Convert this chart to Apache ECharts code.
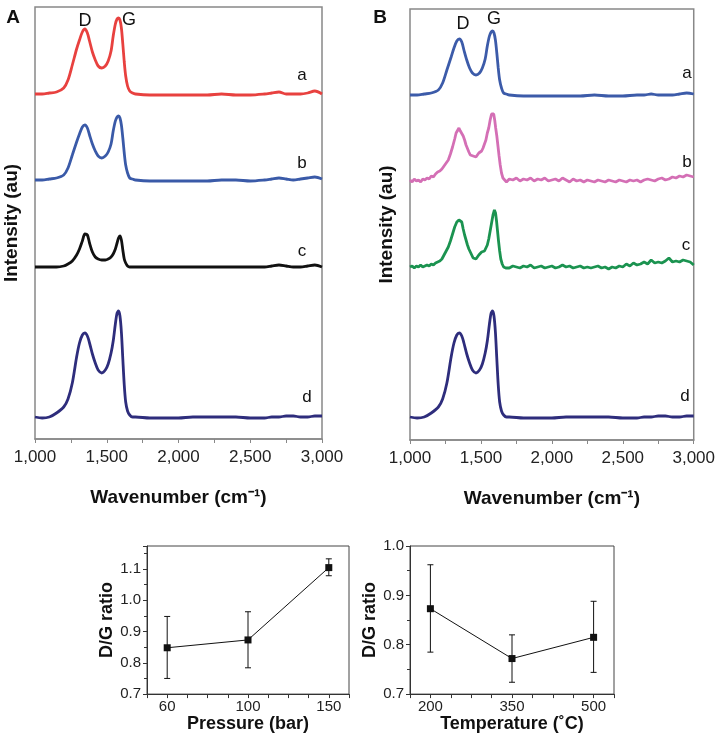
<!DOCTYPE html>
<html>
<head>
<meta charset="utf-8">
<script src="https://cdn.jsdelivr.net/npm/echarts@6/dist/echarts.min.js"></script>
<style>
  html, body { margin: 0; padding: 0; background: #fff; }
  #main { width: 718px; height: 734px; }
</style>
</head>
<body>
<div id="main"></div>
<script>
// wavenumber samples for the clean spectra (cm-1)
var wnClean = [1000, 1050, 1100, 1150, 1200, 1230, 1260, 1290, 1310, 1330, 1348, 1365, 1380, 1400, 1420, 1440, 1465,
	1490, 1510, 1530, 1545, 1560, 1572, 1582, 1592, 1602, 1612, 1622, 1632, 1645, 1660, 1680, 1700,
	1800, 1900, 2000, 2100, 2200, 2300, 2400, 2500, 2600, 2650, 2700, 2750, 2800, 2850, 2900, 2950, 3000];

// panel A (offset intensities, au)
var specA_a = [345, 345, 346, 347, 351, 359, 374, 390, 399, 407, 410, 406, 398, 387, 379, 373, 371,
	373, 378, 388, 403, 415, 420, 421, 419, 411, 395, 377, 363, 353, 348, 346, 345,
	344, 344, 344, 344, 344, 345, 344, 344, 345, 346, 347, 345, 345, 345, 346, 348, 345];
var specA_b = [259, 259, 260, 261, 264, 271, 284, 297, 305, 312, 314, 311, 304, 295, 288, 283, 281,
	283, 287, 295, 308, 318, 322, 323, 321, 314, 301, 286, 274, 266, 261, 260, 259,
	258, 258, 258, 258, 258, 259, 259, 258, 259, 260, 261, 260, 259, 260, 261, 262, 260];
var specA_c = [172, 172, 172, 172, 173, 175, 178, 184, 190, 198, 205, 204, 196, 187, 182, 180, 179,
	179, 180, 182, 185, 190, 196, 201, 203, 199, 189, 180, 176, 173, 172, 172, 172,
	172, 172, 172, 172, 172, 172, 172, 172, 172, 173, 174, 173, 172, 172, 173, 174, 172];
var specA_d = [22, 21, 22, 26, 32, 40, 56, 82, 96, 104, 106, 103, 96, 85, 76, 69, 66,
	69, 75, 86, 98, 115, 126, 128, 123, 107, 80, 54, 37, 28, 24, 22, 22,
	21, 21, 21, 22, 22, 22, 22, 21, 21, 22, 22, 23, 23, 22, 22, 23, 23];

// panel B clean spectra
var specB_a = [345, 345, 346, 347, 350, 357, 370, 383, 392, 399, 401, 398, 390, 380, 372, 367, 365,
	367, 372, 381, 394, 404, 408, 409, 407, 400, 387, 372, 360, 352, 347, 346, 345,
	344, 344, 344, 344, 344, 345, 344, 344, 345, 345, 346, 345, 345, 345, 346, 347, 346];
var specB_d = [23, 22, 23, 27, 33, 41, 57, 83, 97, 105, 107, 104, 97, 86, 77, 70, 67,
	70, 76, 87, 99, 116, 127, 129, 124, 108, 81, 55, 38, 29, 25, 23, 23,
	22, 22, 22, 23, 23, 23, 23, 22, 22, 23, 23, 24, 24, 23, 23, 24, 24];

// panel B noisy spectra
var wnTail = [1700, 1725, 1750, 1775, 1800, 1825, 1850, 1875, 1900, 1925, 1950, 1975, 2000, 2025, 2050, 2075,
	2100, 2125, 2150, 2175, 2200, 2225, 2250, 2275, 2300, 2325, 2350, 2375, 2400, 2425, 2450, 2475,
	2500, 2525, 2550, 2575, 2600, 2625, 2650, 2675, 2700, 2725, 2750, 2775, 2800, 2825, 2850, 2875,
	2900, 2925, 2950, 2975, 3000];
var wnB_b = [1000, 1015, 1030, 1045, 1060, 1075, 1090, 1105, 1120, 1135, 1150, 1165, 1180, 1195, 1210, 1225,
	1240, 1255, 1270, 1285, 1300, 1315, 1325, 1335, 1345, 1355, 1365, 1375, 1385, 1395, 1405, 1415,
	1425, 1435, 1445, 1455, 1465, 1475, 1485, 1495, 1505, 1515, 1525, 1535, 1545, 1555, 1565, 1575,
	1583, 1590, 1597, 1604, 1612, 1620, 1628, 1636, 1645, 1655, 1665, 1680].concat(wnTail);
var specB_b = [260, 258, 261, 259, 260, 258, 261, 260, 262, 261,
	264, 263, 266, 268, 269, 271, 274, 277, 280, 286,
	293, 301, 307, 308, 312, 309, 311, 304, 300, 295,
	293, 288, 285, 287, 284, 286, 283, 285, 287, 286,
	289, 292, 296, 300, 307, 312, 320, 326, 328, 326,
	320, 312, 304, 294, 284, 275, 267, 262, 260, 258,
	261, 260, 262, 259, 261, 260, 262, 259, 261, 260,
	262, 259, 260, 261, 259, 262, 260, 258, 261, 259,
	260, 258, 260, 259, 258, 260, 259, 258, 260, 259,
	258, 260, 259, 258, 260, 259, 260, 258, 260, 261,
	260, 259, 261, 262, 260, 261, 263, 262, 264, 263,
	265, 264, 263];
var wnB_c = [1000, 1015, 1030, 1045, 1060, 1075, 1090, 1105, 1120, 1135, 1150, 1165, 1180, 1195, 1210, 1225,
	1240, 1255, 1270, 1285, 1300, 1315, 1330, 1345, 1355, 1365, 1375, 1385, 1395, 1405, 1415, 1425,
	1435, 1445, 1455, 1465, 1475, 1485, 1495, 1505, 1515, 1525, 1535, 1545, 1555, 1565, 1575, 1585,
	1595, 1603, 1610, 1617, 1624, 1632, 1640, 1650, 1660, 1675].concat(wnTail);
var specB_c = [173, 174, 172, 174, 173, 175, 173, 174, 175, 174,
	176, 175, 177, 178, 179, 181, 185, 189, 193, 199,
	206, 213, 218, 220, 221, 218, 211, 205, 200, 195,
	191, 188, 185, 182, 180, 181, 183, 185, 186, 188,
	189, 189, 191, 195, 201, 209, 217, 225, 230, 227,
	219, 209, 199, 189, 181, 176, 173, 172,
	172, 174, 173, 172, 174, 173, 175, 172, 173, 174,
	172, 173, 174, 172, 173, 175, 173, 174, 172, 173,
	174, 172, 173, 172, 173, 174, 172, 173, 171, 173,
	172, 174, 173, 176, 174, 177, 175, 176, 178, 176,
	180, 177, 178, 177, 179, 182, 178, 179, 178, 180,
	179, 178, 175];

// D/G ratio vs pressure
var pressure = ['60', '100', '150'];
var dgPressure = [0.848, 0.873, 1.104];
var dgPressureLow = [0.750, 0.784, 1.078];
var dgPressureHigh = [0.948, 0.963, 1.132];

// D/G ratio vs temperature
var temperature = ['200', '350', '500'];
var dgTemp = [0.873, 0.772, 0.815];
var dgTempLow = [0.785, 0.724, 0.744];
var dgTempHigh = [0.962, 0.820, 0.888];

var FONT = '"Liberation Sans", Arial, Helvetica, sans-serif';

function pairs(xs, ys) {
	return xs.map(function (x, i) { return [x, ys[i]]; });
}

function errRows(low, high) {
	return low.map(function (l, i) { return [i, l, high[i]]; });
}

function renderErr(params, api) {
	var x = api.value(0);
	var lo = api.coord([x, api.value(1)]);
	var hi = api.coord([x, api.value(2)]);
	var w = 3;
	var st = { stroke: '#111', lineWidth: 1 };
	return {
		type: 'group',
		children: [
			{ type: 'line', shape: { x1: lo[0], y1: lo[1], x2: hi[0], y2: hi[1] }, style: st },
			{ type: 'line', shape: { x1: lo[0] - w, y1: lo[1], x2: lo[0] + w, y2: lo[1] }, style: st },
			{ type: 'line', shape: { x1: hi[0] - w, y1: hi[1], x2: hi[0] + w, y2: hi[1] }, style: st }
		]
	};
}

function specX(gridIndex) {
	return {
		type: 'value', gridIndex: gridIndex, min: 1000, max: 3000, interval: 500,
		name: 'Wavenumber (cm\u207B\u00B9)', nameLocation: 'middle', nameGap: 49,
		nameTextStyle: { fontFamily: FONT, fontWeight: 'bold', fontSize: 19, color: '#111' },
		axisLine: { lineStyle: { color: '#888', width: 1.5 } },
		axisTick: { length: 4, lineStyle: { color: '#888' } },
		minorTick: { show: true, splitNumber: 2, length: 4, lineStyle: { color: '#888' } },
		splitLine: { show: false },
		axisLabel: {
			margin: 10, fontFamily: FONT, fontSize: 17, color: '#222',
			formatter: function (v) { return v.toLocaleString('en-US'); }
		}
	};
}

function specY(gridIndex, max) {
	return {
		type: 'value', gridIndex: gridIndex, min: 0, max: max,
		name: 'Intensity (au)', nameLocation: 'middle', nameGap: 14,
		nameTextStyle: { fontFamily: FONT, fontWeight: 'bold', fontSize: 19, color: '#111' },
		axisLine: { show: false, onZero: false }, axisTick: { show: false },
		axisLabel: { show: false }, splitLine: { show: false }
	};
}

function ratioX(gridIndex, labels, title) {
	return {
		type: 'value', gridIndex: gridIndex, min: -0.25, max: 2.25, interval: 0.25,
		name: title, nameLocation: 'middle', nameGap: 18,
		nameTextStyle: { fontFamily: FONT, fontWeight: 'bold', fontSize: 18, color: '#111' },
		axisLine: { onZero: false, lineStyle: { color: '#333', width: 1 } },
		axisTick: { length: 4, lineStyle: { color: '#333' } },
		splitLine: { show: false },
		axisLabel: {
			margin: 5, fontFamily: FONT, fontSize: 15, color: '#222',
			formatter: function (v) {
				var r = Math.round(v);
				return Math.abs(v - r) < 1e-6 && labels[r] ? labels[r] : '';
			}
		}
	};
}

function ratioY(gridIndex, max) {
	return {
		type: 'value', gridIndex: gridIndex, min: 0.7, max: max, interval: 0.1,
		name: 'D/G ratio', nameLocation: 'middle', nameGap: 28,
		nameTextStyle: { fontFamily: FONT, fontWeight: 'bold', fontSize: 18, color: '#111' },
		axisLine: { onZero: false, lineStyle: { color: '#333', width: 1 } },
		axisTick: { length: 4, lineStyle: { color: '#333' } },
		minorTick: { show: true, splitNumber: 2, length: 3, lineStyle: { color: '#333' } },
		splitLine: { show: false },
		axisLabel: {
			margin: 6, fontFamily: FONT, fontSize: 15, color: '#222', showMaxLabel: max === 1.0,
			formatter: function (v) { return v.toFixed(1); }
		}
	};
}

function specLine(xi, xs, ys, color, smooth) {
	return {
		type: 'line', xAxisIndex: xi, yAxisIndex: xi, data: pairs(xs, ys),
		showSymbol: false, smooth: smooth ? 0.3 : false,
		lineStyle: { color: color, width: 2.8 }, silent: true
	};
}

function txt(x, y, s, size, bold) {
	return {
		type: 'text', x: x, y: y,
		style: {
			text: s, fill: '#111', textAlign: 'center', textVerticalAlign: 'middle',
			font: (bold ? 'bold ' : '') + size + 'px ' + FONT
		}
	};
}

var chartDom = document.getElementById('main');
var myChart = echarts.init(chartDom);
var option;

option = {
	backgroundColor: '#fff',
	animation: false,
	grid: [
		{ left: 35, top: 7, width: 287, height: 432, show: true, borderColor: '#888', borderWidth: 1.5 },
		{ left: 410, top: 9, width: 288, height: 431, show: true, borderColor: '#888', borderWidth: 1.5 },
		{ left: 147, top: 546, width: 202, height: 150, show: true, borderColor: '#444', borderWidth: 1 },
		{ left: 410, top: 546, width: 204, height: 150, show: true, borderColor: '#444', borderWidth: 1 }
	],
	xAxis: [
		specX(0),
		specX(1),
		ratioX(2, pressure, 'Pressure (bar)'),
		ratioX(3, temperature, 'Temperature (\u02DAC)')
	],
	yAxis: [
		specY(0, 432),
		specY(1, 431),
		ratioY(2, 1.173),
		ratioY(3, 1.0)
	],
	series: [
		specLine(0, wnClean, specA_a, '#e8413f', true),
		specLine(0, wnClean, specA_b, '#3a5aa8', true),
		specLine(0, wnClean, specA_c, '#111111', true),
		specLine(0, wnClean, specA_d, '#2e2d7c', true),
		specLine(1, wnClean, specB_a, '#3c5ba9', true),
		specLine(1, wnB_b, specB_b, '#d46fb5', false),
		specLine(1, wnB_c, specB_c, '#1b9350', false),
		specLine(1, wnClean, specB_d, '#2e2d7c', true),
		{
			type: 'custom', xAxisIndex: 2, yAxisIndex: 2, renderItem: renderErr,
			encode: { x: 0, y: [1, 2] }, data: errRows(dgPressureLow, dgPressureHigh), silent: true
		},
		{
			type: 'line', xAxisIndex: 2, yAxisIndex: 2,
			data: dgPressure.map(function (v, i) { return [i, v]; }),
			symbol: 'rect', symbolSize: 7, itemStyle: { color: '#111' },
			lineStyle: { color: '#111', width: 1 }, silent: true
		},
		{
			type: 'custom', xAxisIndex: 3, yAxisIndex: 3, renderItem: renderErr,
			encode: { x: 0, y: [1, 2] }, data: errRows(dgTempLow, dgTempHigh), silent: true
		},
		{
			type: 'line', xAxisIndex: 3, yAxisIndex: 3,
			data: dgTemp.map(function (v, i) { return [i, v]; }),
			symbol: 'rect', symbolSize: 7, itemStyle: { color: '#111' },
			lineStyle: { color: '#111', width: 1 }, silent: true
		}
	],
	graphic: [
		txt(13, 18, 'A', 19, true),
		txt(380, 18, 'B', 19, true),
		txt(85, 21, 'D', 18),
		txt(129, 20, 'G', 18),
		txt(463, 24, 'D', 18),
		txt(494, 19, 'G', 18),
		txt(302, 75, 'a', 17),
		txt(302, 163, 'b', 17),
		txt(302, 251, 'c', 17),
		txt(307, 397, 'd', 17),
		txt(687, 73, 'a', 17),
		txt(687, 162, 'b', 17),
		txt(686, 245, 'c', 17),
		txt(685, 396, 'd', 17)
	]
};

option && myChart.setOption(option);
</script>
</body>
</html>
